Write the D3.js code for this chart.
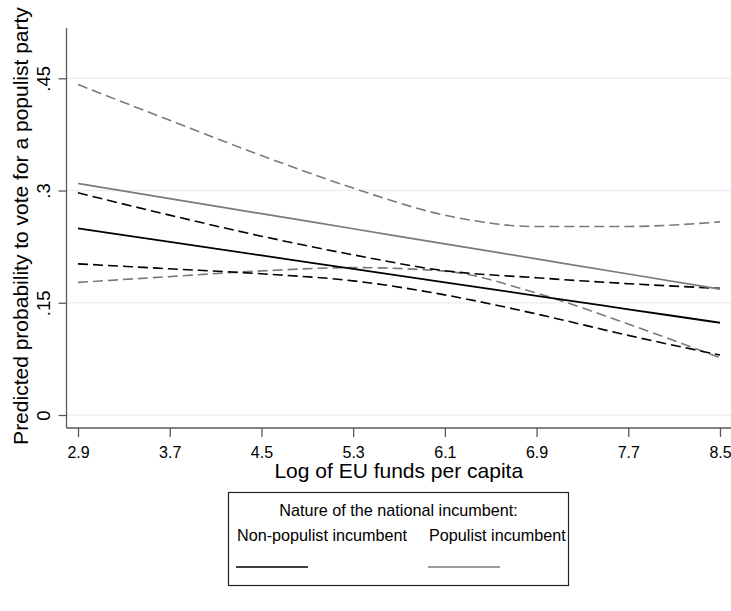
<!DOCTYPE html>
<html>
<head>
<meta charset="utf-8">
<script src="https://cdn.jsdelivr.net/npm/d3@7"></script>
<style>
  html, body { margin: 0; padding: 0; background: #fff; }
  svg { display: block; font-family: "Liberation Sans", Arial, sans-serif; }
</style>
</head>
<body>
<svg id="chart" width="731" height="611"></svg>
<script>
// ---- data ----
const xValues = [2.9, 3.7, 4.5, 5.3, 6.1, 6.9, 7.7, 8.5];
const xTickLabels = ["2.9", "3.7", "4.5", "5.3", "6.1", "6.9", "7.7", "8.5"];
const yTicks = [0, 0.15, 0.3, 0.45];
const yTickLabels = ["0", ".15", ".3", ".45"];

// Non-populist incumbent
const nonPopPred  = [0.2493, 0.2313, 0.2133, 0.1952, 0.1772, 0.1593, 0.1413, 0.1233];
const nonPopUpper = [0.2969, 0.2671, 0.2390, 0.2141, 0.1928, 0.1834, 0.1755, 0.1692];
const nonPopLower = [0.2020, 0.1954, 0.1887, 0.1793, 0.1605, 0.1350, 0.1064, 0.0801];
// Populist incumbent
const popPred  = [0.3094, 0.2891, 0.2691, 0.2489, 0.2288, 0.2086, 0.1884, 0.1683];
const popUpper = [0.4416, 0.3939, 0.3468, 0.3033, 0.2671, 0.2519, 0.2520, 0.2581];
const popLower = [0.1772, 0.1850, 0.1926, 0.1970, 0.1923, 0.1629, 0.1215, 0.0765];

const yTitle = "Predicted probability to vote for a populist party";
const xTitle = "Log of EU funds per capita";
const legendTitle = "Nature of the national incumbent:";
const legendLabels = ["Non-populist incumbent", "Populist incumbent"];

// ---- layout ----
const svg = d3.select("#chart");
const plotLeft = 66.5, plotRight = 731, plotTop = 28, plotBottom = 428;
const x = d3.scaleLinear().domain([2.9, 8.5]).range([78, 720]);
const y = d3.scaleLinear().domain([0, 0.45]).range([415, 78.3]);

const BLACK = "#000000", GREY = "#7a7a7a", AXIS = "#5a5a5a", GRID = "#e8f0f1";

// gridlines
svg.append("g").selectAll("line").data(yTicks).join("line")
  .attr("x1", plotLeft).attr("x2", plotRight)
  .attr("y1", d => y(d)).attr("y2", d => y(d))
  .attr("stroke", GRID).attr("stroke-width", 1.5);

// y axis
const yAxis = d3.axisLeft(y).tickValues(yTicks).tickSize(8).tickPadding(0)
  .tickFormat((d, i) => yTickLabels[i]);
const gy = svg.append("g").attr("transform", `translate(${plotLeft},0)`).call(yAxis);
gy.select(".domain").attr("d", `M0,${plotTop}V${plotBottom}`).attr("stroke", AXIS).attr("stroke-width", 1.3);
gy.selectAll(".tick line").attr("stroke", AXIS).attr("stroke-width", 1.3);
gy.selectAll(".tick text")
  .attr("x", null).attr("dy", null)
  .attr("transform", "translate(-16.5,0) rotate(-90)")
  .attr("text-anchor", "middle")
  .attr("font-size", 18.5).attr("fill", "#000")
  .style("font-family", "Liberation Sans, Arial, sans-serif");

// x axis
const xAxis = d3.axisBottom(x).tickValues(xValues).tickSize(9).tickPadding(0)
  .tickFormat((d, i) => xTickLabels[i]);
const gx = svg.append("g").attr("transform", `translate(0,${plotBottom})`).call(xAxis);
gx.select(".domain").attr("d", `M${plotLeft},0H${plotRight}`).attr("stroke", AXIS).attr("stroke-width", 1.3);
gx.selectAll(".tick line").attr("stroke", AXIS).attr("stroke-width", 1.3);
gx.selectAll(".tick text")
  .attr("y", 29.5).attr("dy", null)
  .attr("font-size", 16).attr("fill", "#000")
  .style("font-family", "Liberation Sans, Arial, sans-serif");

// titles
svg.append("text")
  .attr("transform", `translate(28,226) rotate(-90)`)
  .attr("text-anchor", "middle").attr("font-size", 21).attr("fill", "#000")
  .text(yTitle);
svg.append("text")
  .attr("x", (plotLeft + plotRight) / 2).attr("y", 478)
  .attr("text-anchor", "middle").attr("font-size", 21).attr("fill", "#000")
  .text(xTitle);

// lines
const line = vals => d3.line()
  .x((d, i) => x(xValues[i]))
  .y(d => y(d))
  .curve(d3.curveMonotoneX)(vals);

const series = [
  { vals: popUpper,    color: GREY,  width: 1.6, dash: "10,5" },
  { vals: popLower,    color: GREY,  width: 1.6, dash: "10,5" },
  { vals: nonPopUpper, color: BLACK, width: 1.6, dash: "10,5" },
  { vals: nonPopLower, color: BLACK, width: 1.6, dash: "10,5" },
  { vals: popPred,     color: GREY,  width: 1.7, dash: null },
  { vals: nonPopPred,  color: BLACK, width: 1.8, dash: null }
];
svg.append("g").selectAll("path").data(series).join("path")
  .attr("d", d => line(d.vals))
  .attr("fill", "none")
  .attr("stroke", d => d.color)
  .attr("stroke-width", d => d.width)
  .attr("stroke-dasharray", d => d.dash);

// legend
const lg = svg.append("g");
lg.append("rect").attr("x", 228.5).attr("y", 492.5).attr("width", 340).attr("height", 93)
  .attr("fill", "#fff").attr("stroke", "#222").attr("stroke-width", 1.2);
lg.append("text").attr("x", 398.5).attr("y", 515.5).attr("text-anchor", "middle")
  .attr("font-size", 16.2).attr("fill", "#000").text(legendTitle);
const legendItems = [
  { label: legendLabels[0], color: BLACK, x: 237 },
  { label: legendLabels[1], color: GREY,  x: 429 }
];
lg.selectAll("text.item").data(legendItems).join("text").attr("class", "item")
  .attr("x", d => d.x).attr("y", 541)
  .attr("font-size", 16.2).attr("fill", "#000").text(d => d.label);
lg.selectAll("line.item").data(legendItems).join("line").attr("class", "item")
  .attr("x1", d => d.x - 1).attr("x2", d => d.x + 71)
  .attr("y1", 567).attr("y2", 567)
  .attr("stroke", d => d.color).attr("stroke-width", 1.6);
</script>
</body>
</html>
